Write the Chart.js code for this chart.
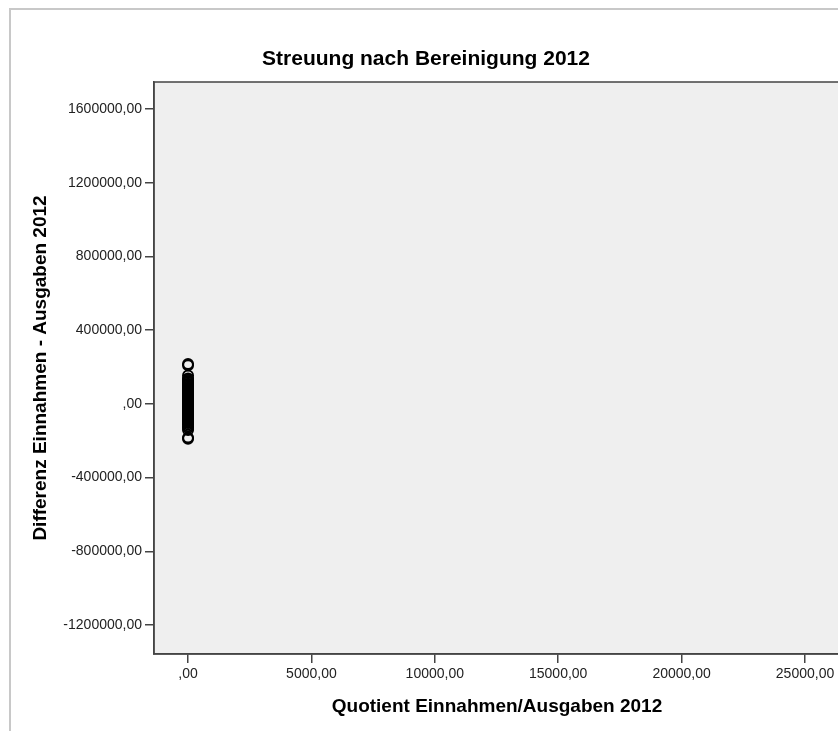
<!DOCTYPE html>
<html lang="de">
<head>
    <meta charset="UTF-8">
    <title>Streuung nach Bereinigung 2012</title>
    <script src="https://cdn.jsdelivr.net/npm/chart.js"></script>
    <style>
        body {
            margin: 0;
            padding: 0;
            background: #ffffff;
            overflow: hidden;
            width: 838px;
            height: 731px;
            position: relative;
        }
        .frame {
            position: absolute;
            left: 9px;
            top: 8px;
            width: 1000px;
            height: 1000px;
            border: 2px solid #c8c8c8;
        }
        .chart-box {
            position: absolute;
            left: 0;
            top: 0;
        }
    </style>
</head>
<body>
    <div class="frame"></div>
    <div class="chart-box">
        <canvas id="streuung" width="900" height="731"></canvas>
    </div>
    <script>
        // Werte
        const quotient = [
            1.21, 1.18, 1.14, 1.12, 1.11, 1.10, 1.09, 1.09, 1.08, 1.08,
            1.07, 1.07, 1.06, 1.06, 1.05, 1.05, 1.04, 1.04, 1.03, 1.03,
            1.02, 1.02, 1.01, 1.01, 1.00, 1.00, 0.99, 0.99, 0.98, 0.98,
            0.97, 0.97, 0.96, 0.96, 0.95, 0.95, 0.94, 0.94, 0.93, 0.93,
            0.92, 0.92, 0.91, 0.90, 0.89, 0.88, 0.84, 0.83
        ];
        const differenz = [
            216000, 209000, 154000, 138000, 131000, 124000, 117000, 109000, 102000, 96000,
            88000, 81000, 74000, 67000, 61000, 55000, 48000, 42000, 36000, 31000,
            25000, 19000, 14000, 9000, 4000, 1500, -2000, -6000, -11000, -17000,
            -23000, -29000, -36000, -43000, -50000, -57000, -64000, -72000, -80000, -88000,
            -96000, -104000, -112000, -121000, -130000, -142000, -183000, -189000
        ];
        const xTicks = [0, 5000, 10000, 15000, 20000, 25000];
        const yTicks = [-1200000, -800000, -400000, 0, 400000, 800000, 1200000, 1600000];

        const points = quotient.map((q, i) => ({ x: q, y: differenz[i] }));

        function fmt(v) {
            return (v === 0 ? '' : String(v)) + ',00';
        }

        // grauer Plotbereich mit Rahmen
        const plotBox = {
            id: 'plotBox',
            beforeDraw(chart) {
                const { ctx, chartArea: a } = chart;
                ctx.save();
                ctx.fillStyle = '#efefef';
                ctx.fillRect(a.left, a.top, a.right - a.left, a.bottom - a.top);
                ctx.restore();
            },
            afterDraw(chart) {
                const { ctx, chartArea: a } = chart;
                ctx.save();
                ctx.strokeStyle = '#444444';
                ctx.lineWidth = 1.5;
                ctx.strokeRect(a.left, a.top, a.right - a.left, a.bottom - a.top);
                ctx.restore();
            }
        };

        const tickFont = { family: "'Liberation Sans', Arial, sans-serif", size: 14 };
        const titleFont = { family: "'Liberation Sans', Arial, sans-serif", size: 19, weight: 'bold' };

        new Chart(document.getElementById('streuung'), {
            type: 'scatter',
            data: {
                datasets: [{
                    label: 'Differenz',
                    data: points,
                    pointRadius: 5,
                    pointBorderWidth: 2,
                    borderColor: '#000000',
                    backgroundColor: 'rgba(0,0,0,0)'
                }]
            },
            options: {
                responsive: false,
                animation: false,
                layout: { padding: { left: 12, right: 60, top: 0, bottom: 0 } },
                plugins: {
                    legend: { display: false },
                    tooltip: { enabled: false },
                    title: {
                        display: true,
                        text: 'Streuung nach Bereinigung 2012',
                        color: '#000000',
                        font: { family: "'Liberation Sans', Arial, sans-serif", size: 21, weight: 'bold' },
                        padding: { top: 47, bottom: 9.8 }
                    }
                },
                scales: {
                    x: {
                        type: 'linear',
                        min: -1378,
                        max: 26418,
                        afterBuildTicks: s => { s.ticks = xTicks.map(v => ({ value: v })); },
                        afterFit: s => { s.height = 77; },
                        grid: { drawOnChartArea: false, tickLength: 9, color: '#444444', lineWidth: 1.5 },
                        border: { color: '#444444', width: 1.5 },
                        ticks: { color: '#222222', font: tickFont, padding: 3, maxRotation: 0, callback: fmt },
                        title: {
                            display: true,
                            text: 'Quotient Einnahmen/Ausgaben 2012',
                            color: '#000000',
                            font: titleFont,
                            padding: { top: 0, bottom: 12.5 }
                        }
                    },
                    y: {
                        type: 'linear',
                        min: -1357000,
                        max: 1746500,
                        afterBuildTicks: s => { s.ticks = yTicks.map(v => ({ value: v })); },
                        afterFit: s => { s.width = 142; },
                        grid: { drawOnChartArea: false, tickLength: 9, color: '#444444', lineWidth: 1.5 },
                        border: { color: '#444444', width: 1.5 },
                        ticks: { color: '#222222', font: tickFont, padding: 3, callback: fmt },
                        title: {
                            display: true,
                            text: 'Differenz Einnahmen - Ausgaben 2012',
                            color: '#000000',
                            font: titleFont,
                            padding: { top: 17.6, bottom: 0 }
                        }
                    }
                }
            },
            plugins: [plotBox]
        });
    </script>
</body>
</html>
